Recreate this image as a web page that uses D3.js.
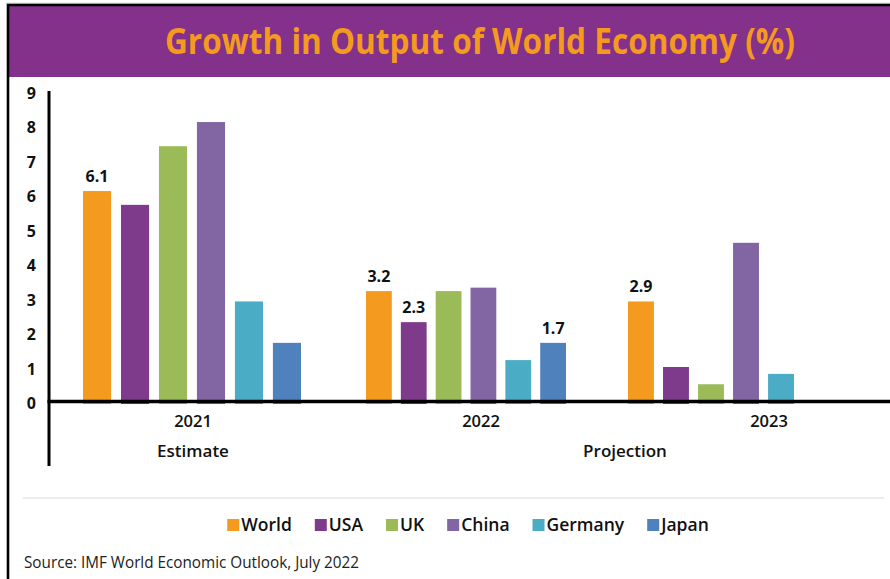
<!DOCTYPE html>
<html>
<head>
<meta charset="utf-8">
<script src="https://cdn.jsdelivr.net/npm/d3@7"></script>
<style>
  html, body { margin: 0; padding: 0; background: #ffffff; }
  svg { display: block; }
  text { font-family: "Open Sans", "Noto Sans", sans-serif; }
</style>
</head>
<body>
<svg id="chart" width="890" height="579"></svg>
<script>
// ---- data ----
const years = ["2021", "2022", "2023"];
const countries = ["World", "USA", "UK", "China", "Germany", "Japan"];
const world   = [6.1, 3.2, 2.9];
const usa     = [5.7, 2.3, 1.0];
const uk      = [7.4, 3.2, 0.5];
const china   = [8.1, 3.3, 4.6];
const germany = [2.9, 1.2, 0.8];
const japan   = [1.7, 1.7, null];
const yTicks  = [0, 1, 2, 3, 4, 5, 6, 7, 8, 9];
const phaseNotes = ["Estimate", "Projection"];
// bars whose values are printed above them
const labelledBars = [["2021", "World"], ["2022", "World"], ["2022", "USA"], ["2022", "Japan"], ["2023", "World"]];

const titleText = "Growth in Output of World Economy (%)";
const sourceText = "Source: IMF World Economic Outlook, July 2022";

// ---- styling ----
const colors = {
  World: "#F49A1E", USA: "#7F3B8B", UK: "#9BBB59",
  China: "#8266A3", Germany: "#4BACC6", Japan: "#4F81BD"
};
const bannerColor = "#83318A";
const titleColor = "#F49A1E";

const seriesByCountry = { World: world, USA: usa, UK: uk, China: china, Germany: germany, Japan: japan };
const rows = [];
years.forEach((yr, i) => {
  countries.forEach(c => {
    const v = seriesByCountry[c][i];
    if (v !== null && v !== undefined) rows.push({ year: yr, country: c, value: v });
  });
});

const svg = d3.select("#chart");

// ---- frame and title banner ----
svg.append("line").attr("x1", 6).attr("x2", 890).attr("y1", 3.2).attr("y2", 3.2)
  .attr("stroke", "#c8c8c8").attr("stroke-width", 1);
svg.append("rect").attr("x", 8).attr("y", 6).attr("width", 882).attr("height", 71)
  .attr("fill", bannerColor);
svg.append("path").attr("d", "M8,579 V5 H890")
  .attr("fill", "none").attr("stroke", "#000").attr("stroke-width", 2.6);
svg.append("text")
  .attr("x", 480).attr("y", 54)
  .attr("text-anchor", "middle")
  .attr("font-size", 35).attr("font-weight", 700)
  .attr("fill", titleColor)
  .attr("textLength", 630).attr("lengthAdjust", "spacingAndGlyphs")
  .text(titleText);

// ---- scales ----
const zeroY = 401.5;
const y = d3.scaleLinear().domain([0, 9]).range([zeroY, zeroY - 9 * 34.5]);

// year labels sit on an even band layout
const xYear = d3.scaleBand().domain(years).range([49, 913]);

// horizontal extent occupied by each year's cluster of bars
const clusterExtent = { "2021": [83, 301], "2022": [366, 566], "2023": [628, 829] };
const xInner = {};
years.forEach(yr => {
  xInner[yr] = d3.scaleBand().domain(countries).range(clusterExtent[yr])
    .paddingInner(0.26).paddingOuter(0);
});

// ---- bars ----
svg.append("g").selectAll("rect").data(rows).join("rect")
  .attr("x", d => xInner[d.year](d.country))
  .attr("width", d => xInner[d.year].bandwidth())
  .attr("y", d => y(d.value))
  .attr("height", d => y(0) - y(d.value) + 2.5)
  .attr("fill", d => colors[d.country]);

// ---- value labels ----
const labelled = rows.filter(d => labelledBars.some(([yr, c]) => yr === d.year && c === d.country));
svg.append("g").selectAll("text").data(labelled).join("text")
  .attr("x", d => xInner[d.year](d.country) + xInner[d.year].bandwidth() / 2)
  .attr("y", d => y(d.value) - 9)
  .attr("text-anchor", "middle")
  .attr("font-size", 16).attr("font-weight", 700).attr("fill", "#111")
  .text(d => d3.format(".1f")(d.value));

// ---- axes ----
// y axis: bold digits to the left of a heavy vertical rule
const yAxis = d3.axisLeft(y).tickValues(yTicks).tickSize(0).tickPadding(0).tickFormat(d3.format("d"));
const gy = svg.append("g").attr("transform", "translate(36,2)").call(yAxis);
gy.select(".domain").remove();
gy.selectAll("text").attr("font-size", 16).attr("font-weight", 700).attr("fill", "#111")
  .attr("font-family", "'Open Sans', sans-serif");

svg.append("line").attr("x1", 49).attr("x2", 49).attr("y1", 91).attr("y2", 466)
  .attr("stroke", "#000").attr("stroke-width", 3);

// x axis: baseline rule plus year labels
svg.append("line").attr("x1", 47.5).attr("x2", 890).attr("y1", zeroY).attr("y2", zeroY)
  .attr("stroke", "#000").attr("stroke-width", 3.5);

const xAxis = d3.axisBottom(xYear).tickSize(0).tickPadding(0);
const gx = svg.append("g").attr("transform", `translate(0,${zeroY + 14})`).call(xAxis);
gx.select(".domain").remove();
gx.selectAll("text").attr("font-size", 16.5).attr("font-weight", 600).attr("fill", "#111")
  .attr("font-family", "'Open Sans', sans-serif").attr("dy", "0.71em");

// phase notes: one under 2021, one centred between 2022 and 2023
const noteX = [
  xYear("2021") + xYear.bandwidth() / 2,
  (xYear("2022") + xYear("2023") + xYear.bandwidth()) / 2
];
svg.append("g").selectAll("text").data(phaseNotes).join("text")
  .attr("x", (d, i) => noteX[i])
  .attr("y", 457)
  .attr("text-anchor", "middle")
  .attr("font-size", 17).attr("font-weight", 600).attr("fill", "#111")
  .text(d => d);

// ---- divider ----
svg.append("line").attr("x1", 23).attr("x2", 884).attr("y1", 498).attr("y2", 498)
  .attr("stroke", "#e6e6e6").attr("stroke-width", 1.5);

// ---- legend ----
const legend = svg.append("g");
const items = legend.selectAll("g").data(countries).join("g");
items.append("rect").attr("width", 12).attr("height", 12).attr("y", -12)
  .attr("fill", d => colors[d]);
items.append("text").attr("x", 14).attr("y", 0)
  .attr("font-size", 17.5).attr("font-weight", 600).attr("fill", "#111")
  .text(d => d);
let cursor = 0;
const offsets = [];
items.each(function () {
  offsets.push(cursor);
  const w = d3.select(this).select("text").node().getComputedTextLength();
  cursor += 14 + w + 23;
});
const totalW = cursor - 23;
const legendLeft = 468 - totalW / 2;
items.attr("transform", (d, i) => `translate(${legendLeft + offsets[i]},531)`);

// ---- source note ----
svg.append("text").attr("x", 24).attr("y", 568)
  .attr("font-size", 15.5).attr("fill", "#222")
  .attr("textLength", 335).attr("lengthAdjust", "spacingAndGlyphs")
  .text(sourceText);
</script>
</body>
</html>
